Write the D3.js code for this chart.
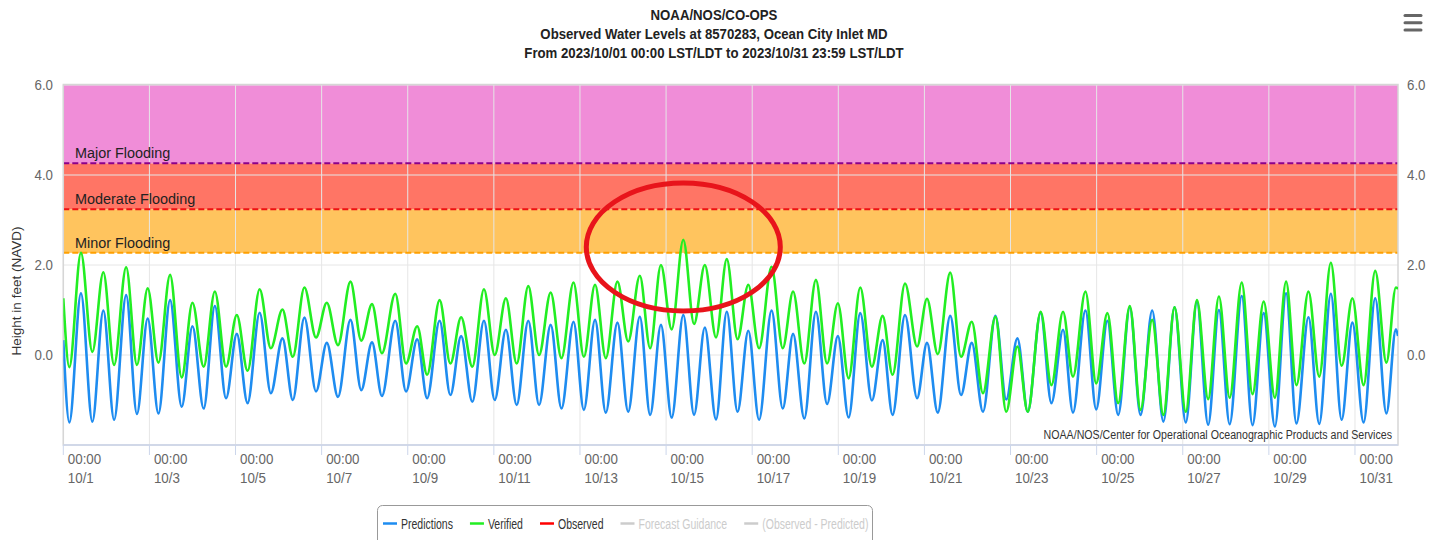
<!DOCTYPE html>
<html>
<head>
<meta charset="utf-8">
<script src="https://cdn.jsdelivr.net/npm/d3@7"></script>
<style>
  body { margin: 0; background: #fff; }
  text { font-family: "Liberation Sans", Arial, sans-serif; }
</style>
</head>
<body>
<svg id="chart" width="1444" height="540"></svg>
<script>
// Ocean City Inlet MD, October 2023, feet above NAVD.
// Turning points of the tide curves (days after 10/1 00:00)
var tideDays = [0, 0.14, 0.41, 0.675, 0.93, 1.18, 1.46, 1.71, 1.96, 2.21, 2.48, 2.75, 3.0, 3.26, 3.52, 3.78,
  4.03, 4.28, 4.56, 4.82, 5.09, 5.33, 5.6, 5.87, 6.12, 6.38, 6.67, 6.92, 7.17, 7.40, 7.71, 7.96, 8.22, 8.45,
  8.74, 8.99, 9.24, 9.50, 9.77, 10.02, 10.28, 10.53, 10.80, 11.05, 11.32, 11.57, 11.85, 12.09, 12.35, 12.60,
  12.87, 13.12, 13.39, 13.63, 13.88, 14.13, 14.40, 14.65, 14.90, 15.16, 15.41, 15.66, 15.91, 16.16, 16.45,
  16.71, 16.95, 17.21, 17.48, 17.74, 17.99, 18.24, 18.51, 18.78, 19.03, 19.26, 19.55, 19.83, 20.06, 20.31,
  20.60, 20.85, 21.10, 21.36, 21.65, 21.90, 22.16, 22.40, 22.70, 22.95, 23.22, 23.45, 23.74, 23.99, 24.25,
  24.50, 24.77, 25.02, 25.29, 25.55, 25.81, 26.07, 26.33, 26.59, 26.84, 27.09, 27.37, 27.62, 27.88, 28.14,
  28.40, 28.64, 28.92, 29.17, 29.44, 29.69, 29.94, 30.20, 30.47, 30.73, 30.95, 31.0];

var predictions = [0.33, -1.50, 1.37, -1.48, 0.99, -1.44, 1.33, -1.31, 0.81, -1.30, 1.22, -1.15, 0.64, -1.19, 1.09, -0.96,
  0.47, -1.07, 0.94, -0.85, 0.37, -1.00, 0.83, -0.81, 0.27, -0.93, 0.78, -0.78, 0.28, -0.91, 0.76, -0.81, 0.35, -0.96,
  0.76, -0.89, 0.42, -1.04, 0.76, -1.00, 0.56, -1.11, 0.76, -1.11, 0.67, -1.19, 0.74, -1.22, 0.78, -1.28,
  0.72, -1.26, 0.85, -1.33, 0.67, -1.39, 0.89, -1.33, 0.61, -1.43, 0.96, -1.26, 0.54, -1.44, 0.99,
  -1.19, 0.47, -1.41, 0.96, -1.09, 0.42, -1.39, 0.93, -1.01, 0.33, -1.33, 0.89, -0.96, 0.27, -1.28,
  0.87, -0.89, 0.27, -1.26, 0.87, -0.99, 0.37, -1.26, 0.94, -1.07, 0.56, -1.28, 0.99, -1.21, 0.76,
  -1.33, 1.06, -1.33, 0.99, -1.48, 1.06, -1.50, 1.18, -1.55, 1.00, -1.54, 1.31, -1.56, 0.93, -1.59,
  1.37, -1.52, 0.84, -1.53, 1.36, -1.44, 0.72, -1.50, 1.26, -1.30, 0.57, 0.42];

var verified = [1.26, -0.27, 2.27, 0.07, 1.84, -0.22, 1.95, -0.22, 1.48, -0.17, 1.78, -0.50, 1.16, -0.26, 1.41, -0.26,
  0.89, -0.35, 1.46, 0.15, 1.01, -0.04, 1.50, 0.39, 1.16, 0.22, 1.63, 0.32, 1.13, 0.04, 1.36, -0.19, 0.64, -0.44,
  1.22, -0.19, 0.84, -0.26, 1.46, 0.00, 1.26, -0.19, 1.53, 0.00, 1.39, -0.07, 1.61, -0.04, 1.56, -0.07,
  1.63, 0.30, 1.76, 0.15, 2.00, 0.57, 2.56, 0.69, 2.00, 0.39, 2.13, 0.35, 1.56, 0.15, 1.96,
  0.15, 1.41, -0.19, 1.67, -0.19, 1.15, -0.52, 1.50, -0.26, 0.87, -0.44, 1.59, 0.19, 1.25, 0.02,
  1.83, -0.04, 0.74, -0.85, 0.85, -1.26, 0.19, -1.26, 0.96, -0.67, 0.96, -0.48, 1.41, -0.63, 0.93,
  -1.07, 1.09, -1.22, 0.78, -1.33, 1.06, -1.26, 1.22, -0.98, 1.30, -0.95, 1.61, -0.87, 1.19, -0.95,
  1.63, -0.67, 1.41, -0.48, 2.05, -0.24, 1.26, -0.67, 1.87, -0.17, 1.50, 1.47];

var floodNames = ["Minor Flooding", "Moderate Flooding", "Major Flooding"];
var floodLevels = [2.27, 3.24, 4.26];
var yTicks = [0, 2, 4, 6];
var titleLines = ["NOAA/NOS/CO-OPS",
  "Observed Water Levels at 8570283, Ocean City Inlet MD",
  "From 2023/10/01 00:00 LST/LDT to 2023/10/31 23:59 LST/LDT"];
var legendNames = ["Predictions", "Verified", "Observed", "Forecast Guidance", "(Observed - Predicted)"];
var legendVisible = [true, true, true, false, false];
var credit = "NOAA/NOS/Center for Operational Oceanographic Products and Services";
// the red circle someone drew round the 10/15 peak
var markDay = 14.4, markFeet = 2.4;

// styles
var bandColors = ["#ffc45e", "#ff7565", "#f08dd8"];
var floodLineColors = ["#ffa000", "#ee1111", "#8b008b"];
var seriesColors = ["#1e8cf0", "#22ee22", "#ff0000", "#cccccc", "#cccccc"];

var svg = d3.select("#chart");
var plotL = 63.3, plotR = 1398, plotT = 85, plotB = 445;
var t0 = Date.UTC(2023, 9, 1);

// the original text is set in a narrower face than what we have, squeeze it
function squeeze(sel, k) {
  var w = 0;
  sel.each(function() {
    w = this.getComputedTextLength() * k;
    d3.select(this).attr("textLength", w).attr("lengthAdjust", "spacingAndGlyphs");
  });
  return w;
}

var x = d3.scaleUtc()
  .domain([new Date(t0), new Date(Date.UTC(2023, 9, 31, 23, 59))])
  .range([plotL, plotR]);
var y = d3.scaleLinear().domain([-2, 6]).range([plotB, plotT]);
var toDate = function(d) { return new Date(t0 + d * 864e5); };

svg.append("defs").append("clipPath").attr("id", "plotclip")
  .append("rect").attr("x", plotL).attr("y", plotT).attr("width", plotR - plotL).attr("height", plotB - plotT);

// flood bands
floodLevels.forEach(function(lv, i) {
  var upper = i < floodLevels.length - 1 ? floodLevels[i + 1] : 6;
  svg.append("rect")
    .attr("x", plotL).attr("width", plotR - plotL)
    .attr("y", y(upper)).attr("height", y(lv) - y(upper))
    .attr("fill", bandColors[i]);
});

// grid
var xTicks = x.ticks(d3.utcDay.every(2));
svg.append("g").selectAll("line").data(xTicks).enter().append("line")
  .attr("x1", function(d) { return x(d); }).attr("x2", function(d) { return x(d); })
  .attr("y1", plotT).attr("y2", plotB)
  .attr("stroke", "#e6e6e6").attr("stroke-width", 1);
svg.append("g").selectAll("line").data(yTicks).enter().append("line")
  .attr("x1", plotL).attr("x2", plotR)
  .attr("y1", function(d) { return y(d); }).attr("y2", function(d) { return y(d); })
  .attr("stroke", "#e6e6e6").attr("stroke-width", 1);

// flood lines + labels
floodLevels.forEach(function(lv, i) {
  svg.append("line")
    .attr("x1", plotL).attr("x2", plotR).attr("y1", y(lv)).attr("y2", y(lv))
    .attr("stroke", floodLineColors[i]).attr("stroke-width", 2).attr("stroke-dasharray", "6,3");
  svg.append("text")
    .attr("class", "flood")
    .attr("x", 75).attr("y", y(lv) - 5)
    .attr("font-size", 15.5).attr("fill", "#222")
    .text(floodNames[i]);
});
svg.selectAll("text.flood").each(function() { squeeze(d3.select(this), 0.93); });

// plot frame
svg.append("rect").attr("x", plotL).attr("y", plotT - 0.5).attr("width", plotR - plotL).attr("height", plotB - plotT + 0.5)
  .attr("fill", "none").attr("stroke", "#d6d6d6").attr("stroke-width", 1.5);
svg.append("line").attr("x1", plotL).attr("x2", plotR).attr("y1", plotB).attr("y2", plotB)
  .attr("stroke", "#ccd6eb").attr("stroke-width", 1.5);

// series
var line = d3.line()
  .x(function(d) { return x(toDate(d[0])); })
  .y(function(d) { return y(d[1]); })
  .curve(d3.curveMonotoneX);
var series = [predictions, verified];
var g = svg.append("g").attr("clip-path", "url(#plotclip)");
series.forEach(function(vals, i) {
  g.append("path")
    .datum(d3.zip(tideDays, vals))
    .attr("d", line)
    .attr("fill", "none")
    .attr("stroke", seriesColors[i])
    .attr("stroke-width", 2.6)
    .attr("stroke-linejoin", "round");
});

// x axis
var xa = svg.append("g");
xa.selectAll("line").data(xTicks).enter().append("line")
  .attr("x1", function(d) { return x(d); }).attr("x2", function(d) { return x(d); })
  .attr("y1", plotB).attr("y2", plotB + 10)
  .attr("stroke", "#ccd6eb").attr("stroke-width", 1);
var fmtTime = d3.utcFormat("%H:%M"), fmtDay = d3.utcFormat("%-m/%-d");
var xl = xa.selectAll("g.lab").data(xTicks).enter().append("g").attr("class", "lab");
xl.append("text").attr("x", function(d) { return x(d) + 4.5; }).attr("y", 464)
  .attr("font-size", 15).attr("fill", "#666").text(fmtTime);
xl.append("text").attr("x", function(d) { return x(d) + 4.5; }).attr("y", 483)
  .attr("font-size", 15).attr("fill", "#666").text(fmtDay);
xa.selectAll("text").each(function() { squeeze(d3.select(this), 0.89); });

// y axis labels both sides
[[53, "end"], [1407, "start"]].forEach(function(s) {
  svg.append("g").selectAll("text").data(yTicks).enter().append("text")
    .attr("x", s[0]).attr("y", function(d) { return y(d) + 5; })
    .attr("text-anchor", s[1])
    .attr("font-size", 14).attr("fill", "#666")
    .text(function(d) { return d.toFixed(1); })
    .each(function() { squeeze(d3.select(this), 0.95); });
});

svg.append("text")
  .attr("transform", "translate(21,291) rotate(-90)")
  .attr("text-anchor", "middle")
  .attr("font-size", 13.5).attr("fill", "#333")
  .text("Height in feet (NAVD)");

// title
svg.append("g").selectAll("text").data(titleLines).enter().append("text")
  .attr("x", 714).attr("y", function(d, i) { return 20 + i * 19.2; })
  .attr("text-anchor", "middle")
  .attr("font-size", 15).attr("font-weight", "bold").attr("fill", "#222")
  .text(function(d) { return d; })
  .each(function() { squeeze(d3.select(this), 0.88); });

// menu icon
svg.append("g").selectAll("rect").data([0, 1, 2]).enter().append("rect")
  .attr("x", 1403.5).attr("y", function(d) { return 14 + d * 7.2; })
  .attr("width", 19).attr("height", 3).attr("rx", 1.5)
  .attr("fill", "#666");

// credits
var cr = svg.append("text")
  .attr("x", 1392).attr("y", 439).attr("text-anchor", "end")
  .attr("font-size", 12.5).attr("fill", "#333")
  .text(credit);
squeeze(cr, 0.85);

// annotation ellipse
svg.append("ellipse")
  .attr("cx", x(toDate(markDay))).attr("cy", y(markFeet))
  .attr("rx", 97).attr("ry", 64)
  .attr("fill", "none").attr("stroke", "#e8141b").attr("stroke-width", 5);

// legend
var lg = svg.append("g");
lg.append("rect").attr("x", 377.5).attr("y", 505.5).attr("width", 495).attr("height", 50).attr("rx", 5)
  .attr("fill", "#fff").attr("stroke", "#999").attr("stroke-width", 1);
var lx = 383;
legendNames.forEach(function(name, i) {
  lg.append("line").attr("x1", lx).attr("x2", lx + 14).attr("y1", 523.5).attr("y2", 523.5)
    .attr("stroke", seriesColors[i]).attr("stroke-width", 2.5);
  var t = lg.append("text").attr("x", lx + 18).attr("y", 528.5)
    .attr("font-size", 14).attr("fill", legendVisible[i] ? "#333" : "#cccccc")
    .text(name);
  var w = squeeze(t, 0.75);
  lx += 18 + w + 17;
});
</script>
</body>
</html>
